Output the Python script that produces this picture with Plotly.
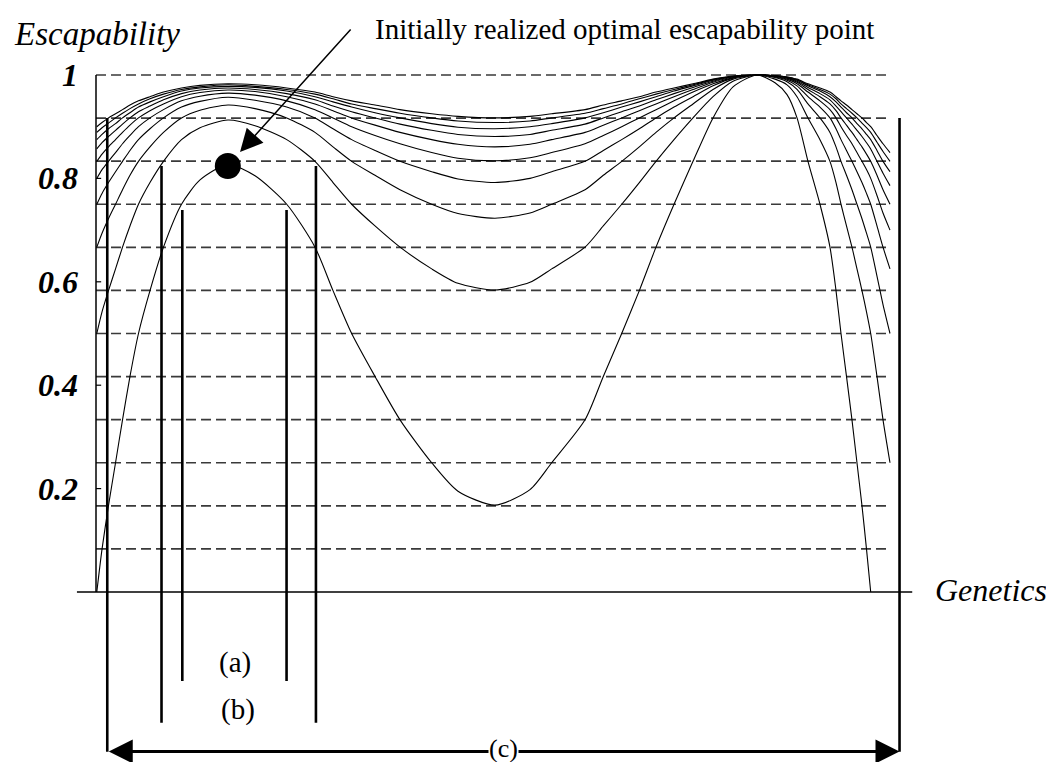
import plotly.graph_objects as go

# ---------------- data ----------------
# genetics position (0 = left axis, 100 = right end of the grid)
genetics = [0.1, 0.76, 1.57, 2.46, 3.34, 4.28, 5.35, 6.8, 8.5, 10.77, 13.1, 16.62, 20.03,
            24.02, 27.58, 29.85, 32.2, 35.14, 38.29, 42.28, 45.59, 50.25, 54.66, 57.39,
            61.59, 63.89, 66.21, 68.43, 70.53, 72.8, 75.19, 77.71, 80.23, 83.25, 85.52,
            87.03, 88.29, 89.67, 91.18, 92.44, 93.2, 93.83, 94.52, 95.21, 95.84, 96.47,
            97.04, 97.57, 98.36, 99.12, 100.0]

curve_1 = [0, .083, .167, .25, .333, .417, .5, .583, .667, .75, .797, .827, .805, .75, .667,
           .583, .5, .417, .333, .25, .195, .168, .198, .25, .333, .417, .5, .583, .667, .75,
           .833, .917, .977, 1, .985, .962, .917, .833, .75, .667, .583, .5, .417, .333, .25,
           .167, .083, 0, None, None, None]
curve_2 = [.5, .542, .583, .625, .667, .708, .75, .792, .833, .875, .898, .913, .902, .875,
           .833, .792, .75, .708, .667, .625, .597, .584, .599, .625, .667, .708, .75, .792,
           .833, .875, .917, .958, .988, 1, .992, .981, .958, .917, .875, .833, .792, .75,
           .708, .667, .625, .583, .542, .5, .417, .333, .25]
curve_3 = [.667, .694, .722, .75, .778, .806, .833, .861, .889, .917, .932, .942, .935, .917,
           .889, .861, .833, .806, .778, .75, .732, .723, .733, .75, .778, .806, .833, .861,
           .889, .917, .944, .972, .992, 1, .995, .987, .972, .944, .917, .889, .861, .833,
           .806, .778, .75, .722, .694, .667, .611, .556, .5]
curve_4 = [.75, .771, .792, .813, .833, .854, .875, .896, .917, .938, .949, .957, .951, .938,
           .917, .896, .875, .854, .833, .813, .799, .792, .8, .813, .833, .854, .875, .896,
           .917, .938, .958, .979, .994, 1, .996, .99, .979, .958, .938, .917, .896, .875,
           .854, .833, .813, .792, .771, .75, .708, .667, .625]
curve_5 = [.8, .817, .833, .85, .867, .883, .9, .917, .933, .95, .959, .965, .961, .95, .933,
           .917, .9, .883, .867, .85, .839, .834, .84, .85, .867, .883, .9, .917, .933, .95,
           .967, .983, .995, 1, .997, .992, .983, .967, .95, .933, .917, .9, .883, .867, .85,
           .833, .817, .8, .767, .733, .7]
curve_6 = [.833, .847, .861, .875, .889, .903, .917, .931, .944, .958, .966, .971, .968, .958,
           .944, .931, .917, .903, .889, .875, .866, .861, .866, .875, .889, .903, .917, .931,
           .944, .958, .972, .986, .996, 1, .998, .994, .986, .972, .958, .944, .931, .917,
           .903, .889, .875, .861, .847, .833, .806, .778, .75]
curve_7 = [.857, .869, .881, .893, .905, .917, .929, .94, .952, .964, .971, .975, .972, .964,
           .952, .94, .929, .917, .905, .893, .885, .881, .885, .893, .905, .917, .929, .94,
           .952, .964, .976, .988, .997, 1, .998, .995, .988, .976, .964, .952, .94, .929,
           .917, .905, .893, .881, .869, .857, .833, .81, .786]
curve_8 = [.875, .885, .896, .906, .917, .927, .938, .948, .958, .969, .975, .978, .976, .969,
           .958, .948, .938, .927, .917, .906, .899, .896, .9, .906, .917, .927, .938, .948,
           .958, .969, .979, .99, .997, 1, .998, .995, .99, .979, .969, .958, .948, .938,
           .927, .917, .906, .896, .885, .875, .854, .833, .813]
curve_9 = [.889, .898, .907, .917, .926, .935, .944, .954, .963, .972, .977, .981, .978, .972,
           .963, .954, .944, .935, .926, .917, .911, .908, .911, .917, .926, .935, .944, .954,
           .963, .972, .981, .991, .997, 1, .998, .996, .991, .981, .972, .963, .954, .944,
           .935, .926, .917, .907, .898, .889, .87, .852, .833]
curve_10 = [.9, .908, .917, .925, .933, .942, .95, .958, .967, .975, .98, .983, .981, .975,
            .967, .958, .95, .942, .933, .925, .92, .917, .92, .925, .933, .942, .95, .958,
            .967, .975, .983, .992, .998, 1, .999, .996, .992, .983, .975, .967, .958, .95,
            .942, .933, .925, .917, .908, .9, .883, .867, .85]
curves = [curve_1, curve_2, curve_3, curve_4, curve_5, curve_6, curve_7, curve_8, curve_9, curve_10]

grid_levels = [1/12, 2/12, 3/12, 4/12, 5/12, 6/12, 7/12, 8/12, 9/12, 10/12, 11/12, 1.0]
tick_values = [1.0, 0.8, 0.6, 0.4, 0.2]
tick_labels = ["1", "0.8", "0.6", "0.4", "0.2"]

optimum_x = [16.6]
optimum_y = [0.824]

# interval brackets (a), (b), (c): left x, right x, top y, bottom y
interval_a = [10.87, 24.0, 0.739, -0.172]
interval_b = [8.25, 27.7, 0.824, -0.253]
interval_c = [1.42, 101.2, 0.917, -0.309]

# ---------------- figure ----------------
PAGE_OFFSET = 8  # default body margin of the html page
X_RANGE = [-(96 - PAGE_OFFSET) / 7.94, (1054 - 96 + PAGE_OFFSET) / 7.94]
Y_RANGE = [(592 - PAGE_OFFSET - 762) / 517, (592 - PAGE_OFFSET) / 517]

fig = go.Figure()

for c in curves:
    fig.add_trace(go.Scatter(x=genetics, y=c, mode="lines",
                             line=dict(color="black", width=1.1, shape="spline", smoothing=0.7),
                             connectgaps=False, hoverinfo="skip", showlegend=False))

fig.add_trace(go.Scatter(x=optimum_x, y=optimum_y, mode="markers",
                         marker=dict(color="black", size=26, line=dict(width=0)),
                         hoverinfo="skip", showlegend=False))

shapes = []
for lv in grid_levels:
    shapes.append(dict(type="line", xref="x", yref="y", x0=0, x1=100, y0=lv, y1=lv,
                       line=dict(color="#3a3a3a", width=1.6, dash="10px,5px"), layer="below"))
# y axis line and ticks
shapes.append(dict(type="line", xref="x", yref="y", x0=0, x1=0, y0=0, y1=1,
                   line=dict(color="black", width=1.5)))
for tv in tick_values[1:]:
    shapes.append(dict(type="line", xref="x", yref="y", x0=0, x1=0.65, y0=tv, y1=tv,
                       line=dict(color="black", width=1.2)))
# x axis line
shapes.append(dict(type="line", xref="x", yref="y", x0=-2.4, x1=102.8, y0=0, y1=0,
                   line=dict(color="black", width=1.5)))
# bracket verticals
for itv in (interval_a, interval_b, interval_c):
    for xv in itv[:2]:
        shapes.append(dict(type="line", xref="x", yref="y", x0=xv, x1=xv, y0=itv[2], y1=itv[3],
                           line=dict(color="black", width=2.6)))

annotations = []
serif = "Liberation Serif"
for tv, tl in zip(tick_values, tick_labels):
    annotations.append(dict(x=-2.0, y=tv, xref="x", yref="y", text=tl, showarrow=False,
                            xanchor="right", yanchor="middle",
                            font=dict(family=serif, size=32, color="black",
                                      style="italic", weight="bold")))
annotations.append(dict(x=-10.6, y=1.079, xref="x", yref="y", text="Escapability",
                        showarrow=False, xanchor="left", yanchor="middle",
                        font=dict(family=serif, size=33, color="black", style="italic")))
annotations.append(dict(x=105.4, y=0.004, xref="x", yref="y", text="Genetics",
                        showarrow=False, xanchor="left", yanchor="middle",
                        font=dict(family=serif, size=32, color="black", style="italic")))
annotations.append(dict(x=34.9, y=1.089, xref="x", yref="y",
                        text="Initially realized optimal escapability point",
                        showarrow=False, xanchor="left", yanchor="middle",
                        font=dict(family=serif, size=29, color="black")))
# pointer arrow
annotations.append(dict(x=18.14, y=0.851, ax=32.24, ay=1.091, xref="x", yref="y",
                        axref="x", ayref="y", text="", showarrow=True, arrowhead=2,
                        arrowsize=3.0, arrowwidth=1.5, arrowcolor="black", standoff=0))
# (c) double arrow
annotations.append(dict(x=interval_c[1], y=-0.3085, ax=interval_c[0], ay=-0.3085, xref="x",
                        yref="y", axref="x", ayref="y", text="", showarrow=True,
                        arrowhead=2, startarrowhead=2, arrowside="end+start",
                        arrowsize=1.6, startarrowsize=1.6, arrowwidth=3, arrowcolor="black",
                        standoff=0, startstandoff=0))
for lab, xx, yy, fs in (("(a)", 17.5, -0.137, 29), ("(b)", 17.9, -0.228, 29),
                        ("(c)", 51.3, -0.302, 26)):
    annotations.append(dict(x=xx, y=yy, xref="x", yref="y", text=lab, showarrow=False,
                            xanchor="center", yanchor="middle", bgcolor="white", borderpad=0,
                            font=dict(family=serif, size=fs, color="black")))

fig.update_layout(
    width=1054, height=762,
    margin=dict(l=0, r=0, t=0, b=0),
    paper_bgcolor="white", plot_bgcolor="white",
    xaxis=dict(range=X_RANGE, visible=False, fixedrange=True),
    yaxis=dict(range=Y_RANGE, visible=False, fixedrange=True),
    shapes=shapes, annotations=annotations, showlegend=False,
)

fig.write_html("out.html")
